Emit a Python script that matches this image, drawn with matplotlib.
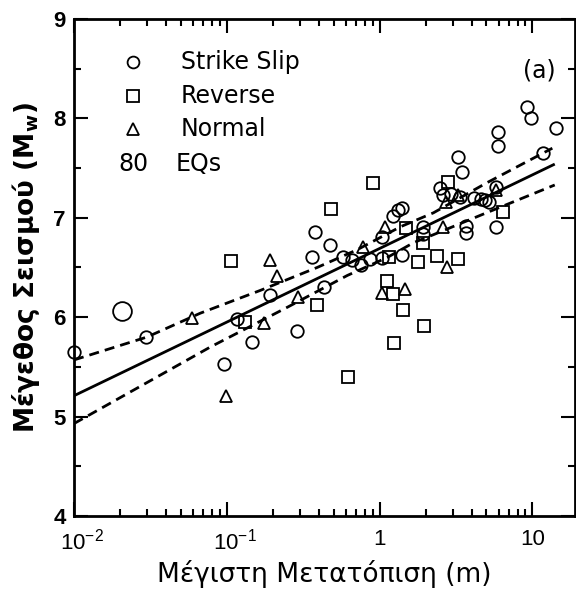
import matplotlib
matplotlib.use("Agg")
import matplotlib.pyplot as plt
from matplotlib.ticker import FixedLocator, FixedFormatter, NullFormatter
from matplotlib.transforms import ScaledTranslation

plt.rcParams['font.family'] = ['Liberation Sans', 'DejaVu Sans']
plt.rcParams['mathtext.fontset'] = 'custom'
plt.rcParams['mathtext.rm'] = 'Liberation Sans'

# ---- data ----
ss_x = [0.010, 0.0297, 0.147, 0.096, 0.117, 0.289, 0.192, 0.363, 0.379, 0.476,
        0.435, 0.579, 0.760, 0.871, 1.04, 1.23, 1.41, 1.41, 1.04, 1.91,
        1.91, 3.65, 3.65, 5.74, 5.74, 4.93, 4.12, 2.50, 2.58, 3.28,
        3.44, 5.92, 5.92, 9.16, 9.73, 14.2, 11.8, 3.38, 5.16, 0.664,
        2.91, 4.58, 1.31]
ss_y = [5.65, 5.80, 5.75, 5.53, 5.98, 5.86, 6.22, 6.61, 6.86, 6.73,
        6.30, 6.61, 6.53, 6.59, 6.60, 7.02, 7.10, 6.63, 6.81, 6.84,
        6.91, 6.92, 6.85, 6.91, 7.31, 7.18, 7.20, 7.30, 7.23, 7.61,
        7.46, 7.86, 7.72, 8.11, 8.00, 7.90, 7.65, 7.21, 7.16, 6.58,
        7.24, 7.19, 7.08]
big_x = [0.0206]
big_y = [6.06]

rv_x = [0.910, 0.483, 0.107, 0.391, 0.132, 0.625, 1.12, 1.23, 1.43, 1.94,
        1.25, 1.16, 1.77, 2.39, 3.28, 6.38, 1.91, 2.82, 1.48]
rv_y = [7.35, 7.09, 6.57, 6.12, 5.95, 5.40, 6.36, 6.23, 6.07, 5.91,
        5.74, 6.61, 6.56, 6.62, 6.59, 7.06, 6.75, 7.36, 6.90]

nm_x = [0.0593, 0.099, 0.176, 0.192, 0.214, 0.294, 0.784, 1.09, 1.04, 1.46,
        2.58, 2.78, 2.70, 3.28, 5.74]
nm_y = [5.99, 5.21, 5.94, 6.58, 6.41, 6.20, 6.71, 6.91, 6.24, 6.28,
        6.91, 6.50, 7.16, 7.23, 7.28]

fit_x = [0.01, 14.0]
fit_y = [5.21, 7.54]
upper_x = [0.01, 0.03, 0.067, 0.166, 0.39, 0.716, 1.37, 2.25, 5.0, 13.5]
upper_y = [5.57, 5.80, 6.04, 6.27, 6.50, 6.68, 6.91, 7.05, 7.35, 7.70]
lower_x = [0.01, 0.078, 0.249, 0.615, 1.12, 1.67, 2.25, 5.0, 14.0]
lower_y = [4.93, 5.70, 6.10, 6.42, 6.60, 6.75, 6.83, 7.05, 7.33]

xtick_vals = [0.01, 0.1, 1, 10]
xtick_labels = [r'$\mathregular{10^{-2}}$', r'$\mathregular{10^{-1}}$', '1', '10']
ytick_vals = [4, 5, 6, 7, 8, 9]
ytick_labels = ['4', '5', '6', '7', '8', '9']

legend_labels = ['Strike Slip', 'Reverse', 'Normal']

# ---- figure ----
fig = plt.figure(figsize=(5.76, 5.91), dpi=100)
ax = fig.add_axes([0.1285, 0.1269, 0.8698, 0.841])
ax.set_xscale('log')
ax.set_xlim(0.01, 19)
ax.set_ylim(4, 9)

lw_line = 2.0
ax.plot(fit_x, fit_y, color='black', lw=lw_line, solid_capstyle='butt', zorder=3)
ax.plot(upper_x, upper_y, color='black', lw=lw_line, dashes=(3.6, 2.2), zorder=3)
ax.plot(lower_x, lower_y, color='black', lw=lw_line, dashes=(3.6, 2.2), zorder=3)

mk = dict(linestyle='none', markerfacecolor='none', markeredgecolor='black',
          markeredgewidth=1.3, clip_on=False, zorder=4)
ax.plot(ss_x, ss_y, marker='o', markersize=9, **mk)
ax.plot(big_x, big_y, marker='o', markersize=13.5, **mk)
ax.plot(rv_x, rv_y, marker='s', markersize=9, **mk)
ax.plot(nm_x, nm_y, marker='^', markersize=8.5, **mk)

# legend (manual, as in the original)
leg_mk = ['o', 's', '^']
leg_y = [0.913, 0.845, 0.779]
for m, yy, lab in zip(leg_mk, leg_y, legend_labels):
    ax.plot([0.118], [yy], marker=m, markersize=8.5, transform=ax.transAxes,
            linestyle='none', markerfacecolor='none', markeredgecolor='black',
            markeredgewidth=1.3)
    ax.text(0.213, yy, lab, transform=ax.transAxes, fontsize=17,
            family='DejaVu Sans', va='center', ha='left')
ax.text(0.118, 0.708, '80', transform=ax.transAxes, fontsize=17,
        family='DejaVu Sans', va='center', ha='center')
ax.text(0.202, 0.708, 'EQs', transform=ax.transAxes, fontsize=17,
        family='DejaVu Sans', va='center', ha='left')
ax.text(0.928, 0.897, '(a)', transform=ax.transAxes, fontsize=17,
        family='DejaVu Sans', va='center', ha='center')

# ticks
ax.xaxis.set_major_locator(FixedLocator(xtick_vals))
ax.xaxis.set_major_formatter(FixedFormatter(xtick_labels))
ax.xaxis.set_minor_formatter(NullFormatter())
ax.yaxis.set_major_locator(FixedLocator(ytick_vals))
ax.yaxis.set_major_formatter(FixedFormatter(ytick_labels))
ax.yaxis.set_minor_locator(FixedLocator([4.5, 5.5, 6.5, 7.5, 8.5]))
ax.tick_params(which='both', direction='in', top=True, right=True, width=1.5)
ax.tick_params(which='major', length=10)
ax.tick_params(which='minor', length=5)
ax.tick_params(axis='x', which='major', labelsize=16, pad=9)
ax.tick_params(axis='y', which='major', labelsize=16, pad=6)
for s in ax.spines.values():
    s.set_linewidth(2.0)

ax.set_xlabel('Μέγιστη Μετατόπιση (m)', fontsize=19, family='DejaVu Sans',
              labelpad=4)
ax.set_ylabel(r'Μέγεθος Σεισμού (M$_\mathregular{w}$)', fontsize=19,
              family='DejaVu Sans', fontweight='bold', labelpad=8)

fig.canvas.draw()
for lab in ax.get_yticklabels():
    lab.set_fontweight('bold')
shift = ScaledTranslation(8 / 100, 0, fig.dpi_scale_trans)
for lab in ax.get_xticklabels()[:2]:
    lab.set_transform(lab.get_transform() + shift)

fig.savefig('out.png', dpi=100)
